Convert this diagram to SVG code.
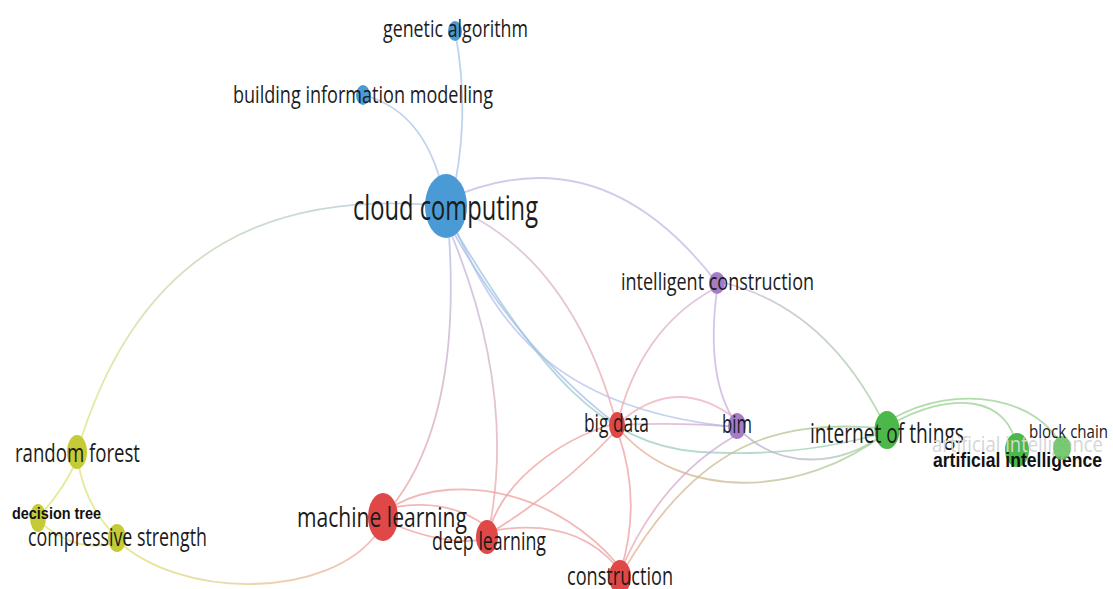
<svg xmlns="http://www.w3.org/2000/svg" width="1113" height="589" viewBox="0 0 1113 589">
<style>
.e{fill:none;stroke-width:1.8;stroke-linecap:round;opacity:0.75}
.lb{font-family:"Open Sans","Liberation Sans",sans-serif;fill:#1c1c1c}
.bd{font-family:"Liberation Sans","Arial",sans-serif;font-weight:bold;fill:#111}
.blue{fill:#4a9bd5}
.pur{fill:#a47dc6}
.red{fill:#e04848}
.grn{fill:#4db84a}
.yel{fill:#c4cb36}
</style>
<defs>
<linearGradient id="g-cc-rf" gradientUnits="userSpaceOnUse" x1="446" y1="206" x2="77" y2="452"><stop offset="0" stop-color="#a8c4e4"/><stop offset="1" stop-color="#dce680"/></linearGradient>
<linearGradient id="g-cc-ml" gradientUnits="userSpaceOnUse" x1="449" y1="235" x2="383" y2="517"><stop offset="0" stop-color="#b0bce6"/><stop offset="1" stop-color="#f0a0a0"/></linearGradient>
<linearGradient id="g-cc-dl" gradientUnits="userSpaceOnUse" x1="452" y1="236" x2="490" y2="525"><stop offset="0" stop-color="#bcb8e0"/><stop offset="1" stop-color="#efa8a8"/></linearGradient>
<linearGradient id="g-cc-bd" gradientUnits="userSpaceOnUse" x1="470" y1="215" x2="617" y2="425"><stop offset="0" stop-color="#d0b8d8"/><stop offset="1" stop-color="#eea8a8"/></linearGradient>
<linearGradient id="g-cc-iot" gradientUnits="userSpaceOnUse" x1="456" y1="232" x2="886" y2="432"><stop offset="0" stop-color="#9cc4e6"/><stop offset="1" stop-color="#9cd4a8"/></linearGradient>
<linearGradient id="g-ic-iot" gradientUnits="userSpaceOnUse" x1="725" y1="283" x2="887" y2="430"><stop offset="0" stop-color="#c8b4dc"/><stop offset="1" stop-color="#a0d498"/></linearGradient>
<linearGradient id="g-bim-iot" gradientUnits="userSpaceOnUse" x1="740" y1="430" x2="887" y2="432"><stop offset="0" stop-color="#c4a8dc"/><stop offset="1" stop-color="#a0d498"/></linearGradient>
<linearGradient id="g-bd-iot" gradientUnits="userSpaceOnUse" x1="620" y1="430" x2="887" y2="432"><stop offset="0" stop-color="#eaa890"/><stop offset="1" stop-color="#a0d498"/></linearGradient>
<linearGradient id="g-con-iot" gradientUnits="userSpaceOnUse" x1="624" y1="570" x2="880" y2="428"><stop offset="0" stop-color="#eab090"/><stop offset="1" stop-color="#98d090"/></linearGradient>
<linearGradient id="g-ml-cs" gradientUnits="userSpaceOnUse" x1="378" y1="532" x2="117" y2="540"><stop offset="0" stop-color="#f0a8a0"/><stop offset="1" stop-color="#dce478"/></linearGradient>
<linearGradient id="g-bim-con" gradientUnits="userSpaceOnUse" x1="733" y1="437" x2="622" y2="568"><stop offset="0" stop-color="#c8a8dc"/><stop offset="1" stop-color="#eeaab0"/></linearGradient>
<linearGradient id="g-bd-ic" gradientUnits="userSpaceOnUse" x1="712" y1="290" x2="617" y2="425"><stop offset="0" stop-color="#d4b4d8"/><stop offset="1" stop-color="#eea8a8"/></linearGradient>
<linearGradient id="g-bd-bim" gradientUnits="userSpaceOnUse" x1="617" y1="425" x2="737" y2="427"><stop offset="0" stop-color="#e8b0c0"/><stop offset="1" stop-color="#c4a8dc"/></linearGradient>
</defs>
<rect width="1113" height="589" fill="#ffffff"/>
<g id="connectors">
<path class="e" stroke="#a8c6e8" d="M455,31 Q472,120 450,206"/>
<path class="e" stroke="#a8c6e8" d="M363,95 Q430,112 446,206"/>
<path class="e" stroke="url(#g-cc-rf)" d="M446,206 C280,190 140,240 77,452"/>
<path class="e" stroke="#bcbce4" d="M446,200 Q600,130 717,283"/>
<path class="e" stroke="url(#g-cc-ml)" d="M449,235 Q462,430 383,517"/>
<path class="e" stroke="url(#g-cc-dl)" d="M452,236 Q515,390 490,525"/>
<path class="e" stroke="url(#g-cc-bd)" d="M470,215 Q575,270 617,425"/>
<path class="e" stroke="#a4c0e8" d="M455,235 Q520,350 617,425"/>
<path class="e" stroke="#b4c0e8" d="M458,234 C500,330 560,410 735,427"/>
<path class="e" stroke="url(#g-cc-iot)" d="M456,232 C540,370 600,445 700,452 Q800,458 886,432"/>
<path class="e" stroke="url(#g-bd-ic)" d="M712,290 Q640,330 617,425"/>
<path class="e" stroke="#c8b0e0" d="M717,290 Q705,380 737,425"/>
<path class="e" stroke="url(#g-ic-iot)" d="M725,283 Q830,310 887,430"/>
<path class="e" stroke="url(#g-bd-bim)" d="M617,425 Q680,422 737,427"/>
<path class="e" stroke="#eeb0bc" d="M625,418 Q680,375 737,420"/>
<path class="e" stroke="url(#g-bim-iot)" d="M740,430 C780,470 840,468 887,432"/>
<path class="e" stroke="url(#g-bd-iot)" d="M620,430 C680,500 800,500 887,432"/>
<path class="e" stroke="url(#g-con-iot)" d="M624,570 C700,440 780,420 880,428"/>
<path class="e" stroke="url(#g-bim-con)" d="M733,437 Q660,480 622,568"/>
<path class="e" stroke="#eea0a0" d="M618,433 Q642,500 621,570"/>
<path class="e" stroke="#eea0a0" d="M610,425 C560,440 505,480 490,528"/>
<path class="e" stroke="#eea0a0" d="M615,432 Q560,490 492,532"/>
<path class="e" stroke="#eea0a0" d="M395,507 Q450,498 487,527"/>
<path class="e" stroke="#eea0a0" d="M395,525 Q445,545 480,540"/>
<path class="e" stroke="#eea0a0" d="M395,505 C460,470 560,495 618,565"/>
<path class="e" stroke="#eea0a0" d="M497,530 Q575,518 616,566"/>
<path class="e" stroke="url(#g-ml-cs)" d="M378,532 C330,600 180,600 117,540"/>
<path class="e" stroke="#98d090" d="M890,425 C950,390 1010,395 1017,450"/>
<path class="e" stroke="#98d090" d="M890,420 C960,380 1040,400 1062,447"/>
<path class="e" stroke="#dce478" d="M77,460 Q62,492 40,515"/>
<path class="e" stroke="#dce478" d="M78,462 Q86,508 117,537"/>
<path class="e" stroke="#dce478" d="M40,522 Q78,555 117,542"/>
</g>
<g id="n-genetic-algorithm"><ellipse class="blue" cx="455" cy="31" rx="7" ry="10"/><text class="lb" x="383" y="37" font-size="23" textLength="145" lengthAdjust="spacingAndGlyphs">genetic algorithm</text></g>
<g id="n-building-information-modelling"><ellipse class="blue" cx="363" cy="95" rx="7" ry="10"/><text class="lb" x="233" y="103" font-size="23" textLength="260" lengthAdjust="spacingAndGlyphs">building information modelling</text></g>
<g id="n-cloud-computing"><ellipse class="blue" cx="446" cy="206" rx="21" ry="32"/><text class="lb" x="353" y="220" font-size="34" textLength="185" lengthAdjust="spacingAndGlyphs">cloud computing</text></g>
<g id="n-intelligent-construction"><ellipse class="pur" cx="717" cy="283" rx="8" ry="11"/><text class="lb" x="621" y="290" font-size="24" textLength="193" lengthAdjust="spacingAndGlyphs">intelligent construction</text></g>
<g id="n-big-data"><ellipse class="red" cx="617" cy="425" rx="8" ry="13"/><text class="lb" x="584" y="432" font-size="25" textLength="65" lengthAdjust="spacingAndGlyphs">big data</text></g>
<g id="n-bim"><ellipse class="pur" cx="737" cy="426" rx="9" ry="13"/><text class="lb" x="722" y="433" font-size="25" textLength="30" lengthAdjust="spacingAndGlyphs">bim</text></g>
<g id="n-internet-of-things"><ellipse class="grn" cx="887" cy="430" rx="12.5" ry="19"/><text class="lb" x="810" y="443" font-size="28" textLength="154" lengthAdjust="spacingAndGlyphs">internet of things</text></g>
<g id="n-artificial-intelligence"><ellipse class="grn" cx="1017" cy="450" rx="12" ry="17"/><text x="932" y="452" font-family="Open Sans, Liberation Sans, sans-serif" font-size="21" fill="#d6d6d6" textLength="171" lengthAdjust="spacingAndGlyphs">artificial intelligence</text><text class="bd" x="933" y="467" font-size="21" textLength="169" lengthAdjust="spacingAndGlyphs">artificial intelligence</text></g>
<g id="n-block-chain"><ellipse fill="#6cc466" cx="1062" cy="448" rx="9" ry="12" opacity="0.9"/><text class="lb" x="1029" y="438" font-size="18" textLength="79" lengthAdjust="spacingAndGlyphs">block chain</text></g>
<g id="n-random-forest"><ellipse class="yel" cx="77" cy="452" rx="10" ry="17"/><text class="lb" x="15" y="462" font-size="26" textLength="125" lengthAdjust="spacingAndGlyphs">random forest</text></g>
<g id="n-decision-tree"><ellipse class="yel" cx="38" cy="518" rx="8" ry="14"/><text class="bd" x="12" y="519" font-size="16" textLength="89" lengthAdjust="spacingAndGlyphs">decision tree</text></g>
<g id="n-compressive-strength"><ellipse class="yel" cx="117" cy="538" rx="9" ry="14"/><text class="lb" x="28" y="546" font-size="25" textLength="179" lengthAdjust="spacingAndGlyphs">compressive strength</text></g>
<g id="n-machine-learning"><ellipse class="red" cx="383" cy="517" rx="15" ry="24"/><text class="lb" x="297" y="527" font-size="28" textLength="170" lengthAdjust="spacingAndGlyphs">machine learning</text></g>
<g id="n-deep-learning"><ellipse class="red" cx="487" cy="537" rx="11" ry="17"/><text class="lb" x="432" y="550" font-size="26" textLength="114" lengthAdjust="spacingAndGlyphs">deep learning</text></g>
<g id="n-construction"><ellipse class="red" cx="620" cy="577" rx="11" ry="17"/><text class="lb" x="567" y="585" font-size="25" textLength="106" lengthAdjust="spacingAndGlyphs">construction</text></g>
</svg>
